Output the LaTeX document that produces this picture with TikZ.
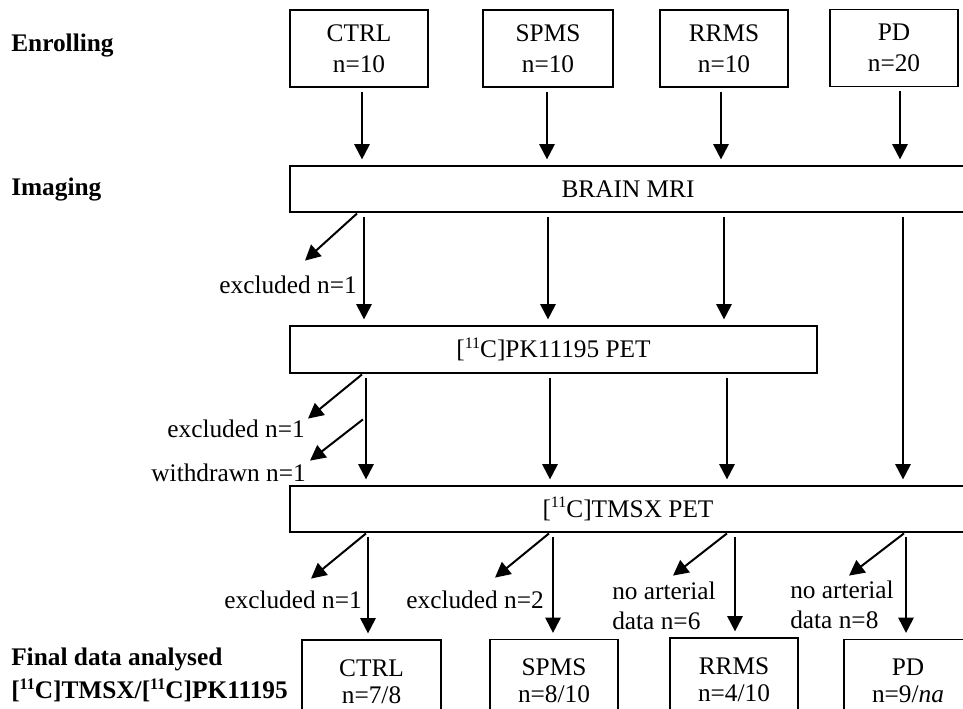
\documentclass[tikz,border=0pt]{standalone}
\usepackage{fontspec}
\setmainfont{Liberation Serif}
\usetikzlibrary{arrows.meta}
\newcommand\isotope[1]{\raisebox{0.38em}{\fontsize{12}{12}\selectfont #1}}
\begin{document}
\begin{tikzpicture}[x=0.75pt,y=-0.75pt,
  box/.style={draw,line width=0.9pt,align=center,inner sep=0pt,font=\fontsize{19}{23.25}\selectfont},
  lowbox/.style={box,font=\fontsize{19}{20.25}\selectfont},
  lbl/.style={inner sep=0pt,font=\fontsize{19}{22.5}\selectfont},
  head/.style={inner sep=0pt,anchor=west,align=left,font=\fontsize{19}{25}\selectfont\bfseries},
  arr/.style={line width=1.5pt,-{Triangle[width=11.5pt,length=11.5pt]}},
  vert/.style={arr,shorten <=3pt,shorten >=4.5pt},
  diag/.style={arr,shorten <=1pt}]
\useasboundingbox (0,0) rectangle (963,708);

% left headings
\node[head] (h1) at (11,46) {Enrolling};
\node[head] (h2) at (11,189) {Imaging};
\node[head] (h3) at (11,675) {Final data analysed\\{[}\isotope{11}C{]}TMSX/{[}\isotope{11}C{]}PK11195};

% top boxes
\node[box,minimum width=103.5pt,minimum height=57.75pt] (t1) at (359,48.5) {CTRL\\n=10};
\node[box,minimum width=97.5pt,minimum height=57.75pt] (t2) at (548,48.5) {SPMS\\n=10};
\node[box,minimum width=96pt,minimum height=57.75pt] (t3) at (724,48.5) {RRMS\\n=10};
\node[box,minimum width=96pt,minimum height=57.75pt] (t4) at (894,48) {PD\\n=20};

% stage boxes
\node[box,minimum width=507pt,minimum height=34.5pt] (mri) at (628,189) {BRAIN MRI};
\node[box,minimum width=395.25pt,minimum height=35.25pt] (pk) at (553.5,349.5) {{[}\isotope{11}C{]}PK11195 PET};
\node[box,minimum width=507pt,minimum height=34.5pt] (tm) at (628,509) {{[}\isotope{11}C{]}TMSX PET};

% bottom boxes
\node[lowbox,minimum width=104.25pt,minimum height=62.25pt] (b1) at (371.5,681.5) {CTRL\\n=7/8};
\node[lowbox,minimum width=96pt,minimum height=62.25pt] (b2) at (554,681) {SPMS\\n=8/10};
\node[lowbox,minimum width=96pt,minimum height=62.25pt] (b3) at (734,679.5) {RRMS\\n=4/10};
\node[lowbox,minimum width=96pt,minimum height=62.25pt] (b4) at (908,681) {PD\\n=9/\textit{na}};

% column coordinates
\coordinate (s1a) at (362,0); \coordinate (s1b) at (547,0); \coordinate (s1c) at (721,0); \coordinate (s1d) at (900,0);
\coordinate (s2a) at (364,0); \coordinate (s2b) at (548,0); \coordinate (s2c) at (724,0); \coordinate (s2d) at (903,0);
\coordinate (s3a) at (366,0); \coordinate (s3b) at (550,0); \coordinate (s3c) at (727,0);
\coordinate (s4a) at (368,0); \coordinate (s4b) at (553,0); \coordinate (s4c) at (735,0); \coordinate (s4d) at (906,0);

% enrolling -> MRI
\draw[vert] (t1.south -| s1a) -- (mri.north -| s1a);
\draw[vert] (t2.south -| s1b) -- (mri.north -| s1b);
\draw[vert] (t3.south -| s1c) -- (mri.north -| s1c);
\draw[vert] (t4.south -| s1d) -- (mri.north -| s1d);

% MRI -> PK
\draw[vert] (mri.south -| s2a) -- (pk.north -| s2a);
\draw[vert] (mri.south -| s2b) -- (pk.north -| s2b);
\draw[vert] (mri.south -| s2c) -- (pk.north -| s2c);
\draw[vert] (mri.south -| s2d) -- (tm.north -| s2d);
\coordinate (m1) at (358,0);
\draw[diag] (mri.south -| m1) -- ++(-53,48);
\node[lbl,anchor=east] (e1) at (357,285) {excluded n=1};

% PK -> TMSX
\draw[vert] (pk.south -| s3a) -- (tm.north -| s3a);
\draw[vert] (pk.south -| s3b) -- (tm.north -| s3b);
\draw[vert] (pk.south -| s3c) -- (tm.north -| s3c);
\coordinate (p1) at (363,0);
\draw[diag] (pk.south -| p1) -- ++(-55,45);
\draw[diag] (pk.south -| p1) ++(1,45) -- ++(-54,42);
\node[lbl,anchor=east] (e2) at (305,429) {excluded n=1};
\node[lbl,anchor=east] (w1) at (306,473) {withdrawn n=1};

% TMSX -> final
\draw[vert] (tm.south -| s4a) -- (b1.north -| s4a);
\draw[vert] (tm.south -| s4b) -- (b2.north -| s4b);
\draw[vert] (tm.south -| s4c) -- (b3.north -| s4c);
\draw[vert] (tm.south -| s4d) -- (b4.north -| s4d);
\coordinate (q1) at (367,0); \coordinate (q2) at (550,0); \coordinate (q3) at (728,0); \coordinate (q4) at (905,0);
\draw[diag] (tm.south -| q1) -- ++(-56,46);
\draw[diag] (tm.south -| q2) -- ++(-55,45);
\draw[diag] (tm.south -| q3) -- ++(-55,43);
\draw[diag] (tm.south -| q4) -- ++(-56,43);
\node[lbl,anchor=east] (e3) at (362,600) {excluded n=1};
\node[lbl,anchor=east] (e4) at (544,600) {excluded n=2};
\node[lbl,anchor=west,align=left] (n6) at (612,606) {no arterial\\data n=6};
\node[lbl,anchor=west,align=left] (n8) at (790,605) {no arterial\\data n=8};
\end{tikzpicture}
\end{document}
